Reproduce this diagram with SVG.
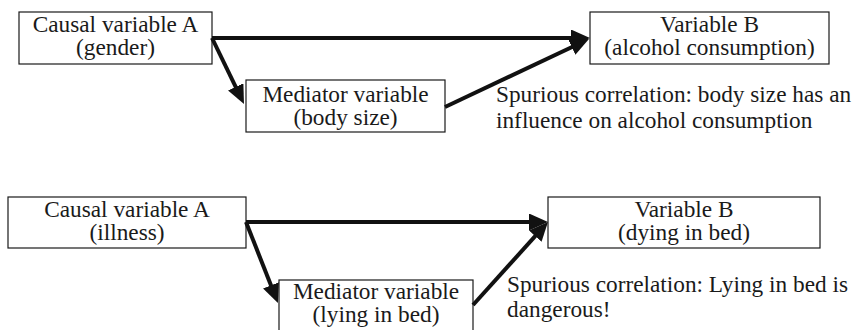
<svg xmlns="http://www.w3.org/2000/svg" width="857" height="330" viewBox="0 0 857 330">
  <style>
    .box { fill: #ffffff; stroke: #1a1a1a; stroke-width: 1.2; }
    .label { font-family: "Liberation Serif", "Times New Roman", serif; font-size: 23.3px; fill: #1a1a1a; text-anchor: middle; }
    .note { font-family: "Liberation Serif", "Times New Roman", serif; font-size: 23.3px; fill: #1a1a1a; }
    .arrow { fill: none; stroke: #111111; stroke-width: 4; marker-end: url(#head); }
  </style>
  <defs>
    <marker id="head" markerUnits="userSpaceOnUse" markerWidth="19" markerHeight="17" refX="8" refY="8.5" orient="auto">
      <path d="M0,0 L19,8.5 L0,17 z" fill="#111111"/>
    </marker>
  </defs>
  <rect width="857" height="330" fill="#ffffff"/>

  <!-- Example 1: gender, body size, alcohol consumption -->
  <g id="cause-gender">
    <rect class="box" x="19" y="12" width="193" height="52"/>
    <text class="label" x="115.5" y="31.5">Causal variable A</text>
    <text class="label" x="115.5" y="55">(gender)</text>
  </g>
  <g id="mediator-body-size">
    <rect class="box" x="246" y="80" width="199" height="52"/>
    <text class="label" x="345.5" y="101.5">Mediator variable</text>
    <text class="label" x="345.5" y="125">(body size)</text>
  </g>
  <g id="effect-alcohol">
    <rect class="box" x="590" y="12" width="239" height="52"/>
    <text class="label" x="709.5" y="31.5">Variable B</text>
    <text class="label" x="709.5" y="55">(alcohol consumption)</text>
  </g>
  <g id="note-1">
    <text class="note" x="496" y="101.5">Spurious correlation: body size has an</text>
    <text class="note" x="496" y="128">influence on alcohol consumption</text>
  </g>

  <!-- Example 2: illness, lying in bed, dying in bed -->
  <g id="cause-illness">
    <rect class="box" x="8" y="197" width="238" height="51"/>
    <text class="label" x="127" y="216.5">Causal variable A</text>
    <text class="label" x="127" y="240">(illness)</text>
  </g>
  <g id="mediator-lying-in-bed">
    <rect class="box" x="279" y="280" width="194" height="60"/>
    <text class="label" x="376" y="298.5">Mediator variable</text>
    <text class="label" x="376" y="322">(lying in bed)</text>
  </g>
  <g id="effect-dying">
    <rect class="box" x="548" y="197" width="272" height="51"/>
    <text class="label" x="684" y="216.5">Variable B</text>
    <text class="label" x="684" y="240">(dying in bed)</text>
  </g>
  <g id="note-2">
    <text class="note" x="507" y="292">Spurious correlation: Lying in bed is</text>
    <text class="note" x="507" y="317">dangerous!</text>
  </g>

  <g id="connectors">
    <line class="arrow" x1="212" y1="38" x2="579" y2="38"/>
    <line class="arrow" x1="212" y1="38" x2="239.2" y2="94.1"/>
    <line class="arrow" x1="445" y1="107" x2="579" y2="43.7"/>
    <line class="arrow" x1="246" y1="222" x2="537" y2="222"/>
    <line class="arrow" x1="246" y1="222" x2="273.9" y2="292.8"/>
    <line class="arrow" x1="473" y1="305" x2="540.6" y2="230.2"/>
  </g>
</svg>
